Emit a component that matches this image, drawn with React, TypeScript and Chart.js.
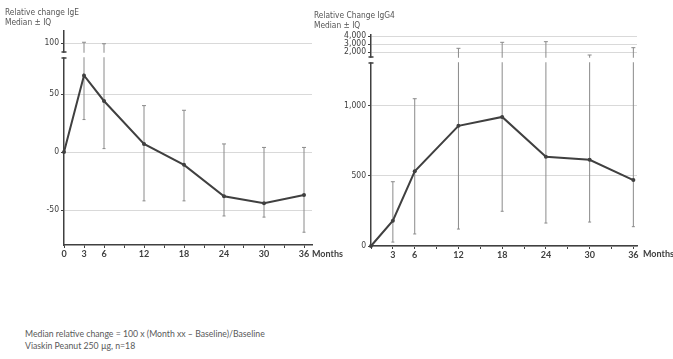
import React, { useEffect, useRef } from 'react';
import { Chart, registerables, LinearScale } from 'chart.js';

Chart.register(...registerables);

// ---- data ----
const months = [0, 3, 6, 12, 18, 24, 30, 36];
const barMonths = [3, 6, 12, 18, 24, 30, 36];

const igeMedian = [0, 66, 44, 7, -11, -38, -44, -37];
const igeLow = [28, 3, -42, -42, -55, -56, -69];
const igeHigh = [101, 99, 40, 36, 7, 4, 4];

const igg4Median = [0, 181, 533, 858, 922, 638, 616, 471];
const igg4Low = [28, 86, 121, 248, 164, 171, 138];
const igg4High = [459, 1052, 2460, 3210, 3290, 1625, 2540];

const igeYTicks = [-50, 0, 50, 100];
const igg4YTicks = [0, 500, 1000, 2000, 3000, 4000];
const xTickMonths = [0, 3, 6, 9, 12, 15, 18, 21, 24, 27, 30, 33, 36];
const igeXLabels = [0, 3, 6, 12, 18, 24, 30, 36];
const igg4XLabels = [3, 6, 12, 18, 24, 30, 36];

// broken-axis definitions: [value, pixels from bottom of plot]
const igeBreak: number[][] = [[-80, 0], [81, 187], [88, 193], [116, 214]];
const igg4Break: number[][] = [[0, 0], [1307, 183], [1375, 189], [4125, 211]];

function valueToPx(segs: number[][], v: number) {
  for (let i = 0; i < segs.length - 1; i++) {
    const [v0, p0] = segs[i];
    const [v1, p1] = segs[i + 1];
    if (v <= v1 || i === segs.length - 2) {
      return p0 + ((v - v0) * (p1 - p0)) / (v1 - v0);
    }
  }
  return 0;
}
function pxToValue(segs: number[][], p: number) {
  for (let i = 0; i < segs.length - 1; i++) {
    const [v0, p0] = segs[i];
    const [v1, p1] = segs[i + 1];
    if (p <= p1 || i === segs.length - 2) {
      return v0 + ((p - p0) * (v1 - v0)) / (p1 - p0);
    }
  }
  return 0;
}

function makeBrokenScale(id: string, segs: number[][]) {
  const total = segs[segs.length - 1][1];
  class BrokenScale extends LinearScale {
    static id = id;
    static defaults = {};
    getPixelForValue(value: any) {
      if (value === null || value === undefined || isNaN(value)) return NaN;
      const px = valueToPx(segs, value);
      return this.bottom - (px * (this.bottom - this.top)) / total;
    }
    getValueForPixel(pixel: number) {
      const px = ((this.bottom - pixel) * total) / (this.bottom - this.top);
      return pxToValue(segs, px);
    }
  }
  return BrokenScale;
}

Chart.register(makeBrokenScale('brokenIgE', igeBreak) as any, makeBrokenScale('brokenIgG4', igg4Break) as any);

const NARROW = "'Liberation Sans Narrow', 'DejaVu Sans Condensed', sans-serif";
const BODY = "Lato, 'Open Sans', sans-serif";
const DARK = '#404040';
const BAR = '#8a8a8a';

type PanelProps = {
  scaleId: string;
  segs: number[][];
  yTicks: number[];
  xLabels: number[];
  xMax: number;
  median: number[];
  low: number[];
  high: number[];
  left: number;
  width: number;
  height: number;
  yWidth: number;
  padTop: number;
  padRight: number;
};

function Panel(p: PanelProps) {
  const ref = useRef<HTMLCanvasElement>(null);
  useEffect(() => {
    if (!ref.current) return;
    const errData: any[] = [];
    barMonths.forEach((m, i) => {
      errData.push({ x: m, y: p.low[i] }, { x: m, y: p.high[i] }, { x: m, y: null });
    });
    const capTop = barMonths.map((m, i) => ({ x: m, y: p.high[i] }));
    const capBot = barMonths.map((m, i) => ({ x: m, y: p.low[i] }));
    const segs = p.segs;
    const gapPlugin = {
      id: 'gap',
      afterDraw(chart: any) {
        const ctx = chart.ctx;
        const y = chart.scales.y;
        const area = chart.chartArea;
        const pTop = y.getPixelForValue(segs[2][0]);
        const pBot = y.getPixelForValue(segs[1][0]);
        ctx.save();
        ctx.fillStyle = '#ffffff';
        ctx.fillRect(area.left - 5, pTop + 0.75, area.right - area.left + 8, pBot - pTop - 1.5);
        ctx.strokeStyle = DARK;
        ctx.lineWidth = 1.5;
        ctx.beginPath();
        ctx.moveTo(area.left - 2.5, pTop);
        ctx.lineTo(area.left + 2.5, pTop);
        ctx.moveTo(area.left - 2.5, pBot);
        ctx.lineTo(area.left + 2.5, pBot);
        ctx.stroke();
        ctx.restore();
      },
    };
    const chart = new Chart(ref.current, {
      type: 'line',
      data: {
        datasets: [
          {
            data: months.map((m, i) => ({ x: m, y: p.median[i] })),
            borderColor: DARK,
            borderWidth: 2,
            pointRadius: 2,
            pointBackgroundColor: DARK,
            pointBorderWidth: 0,
            tension: 0,
            clip: false,
          } as any,
          {
            data: errData,
            borderColor: BAR,
            borderWidth: 1,
            pointRadius: 0,
            spanGaps: false,
          },
          {
            data: capTop,
            showLine: false,
            pointStyle: 'line',
            pointRadius: 2,
            borderColor: BAR,
            pointBorderColor: BAR,
            pointBorderWidth: 1,
          },
          {
            data: capBot,
            showLine: false,
            pointStyle: 'line',
            pointRadius: 1.5,
            borderColor: BAR,
            pointBorderColor: BAR,
            pointBorderWidth: 1,
          },
        ],
      },
      options: {
        animation: false,
        responsive: false,
        maintainAspectRatio: false,
        events: [],
        layout: { padding: { top: p.padTop, right: p.padRight, left: 0, bottom: 0 } },
        plugins: { legend: { display: false }, tooltip: { enabled: false } },
        scales: {
          x: {
            type: 'linear',
            min: 0,
            max: p.xMax,
            afterBuildTicks: (s: any) => {
              s.ticks = xTickMonths.map((v) => ({ value: v }));
            },
            afterFit: (s: any) => {
              s.height = 25;
            },
            ticks: {
              autoSkip: false,
              maxRotation: 0,
              padding: 1,
              color: DARK,
              font: { family: BODY, size: 9, weight: 'bold' },
              callback: (v: any) => (p.xLabels.includes(Number(v)) ? String(v) : ''),
            },
            grid: { drawOnChartArea: false, color: DARK, tickColor: DARK, tickLength: 3 },
            border: { color: DARK, width: 1.5 },
          },
          y: {
            type: p.scaleId as any,
            min: p.segs[0][0],
            max: p.segs[p.segs.length - 1][0],
            afterBuildTicks: (s: any) => {
              s.ticks = p.yTicks.map((v) => ({ value: v }));
            },
            afterFit: (s: any) => {
              s.width = p.yWidth;
            },
            ticks: {
              autoSkip: false,
              padding: 2,
              color: DARK,
              font: { family: NARROW, size: 8.5 },
              callback: (v: any) => Number(v).toLocaleString('en-US'),
            },
            grid: { color: '#d9d9d9', tickColor: DARK, tickLength: 3, lineWidth: 1 },
            border: { color: DARK, width: 1.5 },
          } as any,
        },
      },
      plugins: [gapPlugin],
    } as any);
    return () => chart.destroy();
  }, []);
  return (
    <canvas
      ref={ref}
      width={p.width}
      height={p.height}
      style={{ position: 'absolute', left: p.left, top: 0, width: p.width, height: p.height }}
    />
  );
}

const txt = (extra: React.CSSProperties): React.CSSProperties => ({
  position: 'absolute',
  whiteSpace: 'nowrap',
  margin: 0,
  ...extra,
});

export default function App() {
  return (
    <div style={{ position: 'fixed', left: 0, top: 0, width: 673, height: 359, background: '#fff', overflow: 'hidden' }}>
      <Panel
        scaleId="brokenIgE"
        segs={igeBreak}
        yTicks={igeYTicks}
        xLabels={igeXLabels}
        xMax={37.2}
        median={igeMedian}
        low={igeLow}
        high={igeHigh}
        left={0}
        width={340}
        height={270}
        yWidth={64}
        padTop={31}
        padRight={28}
      />
      <Panel
        scaleId="brokenIgG4"
        segs={igg4Break}
        yTicks={igg4YTicks}
        xLabels={igg4XLabels}
        xMax={36.5}
        median={igg4Median}
        low={igg4Low}
        high={igg4High}
        left={300}
        width={373}
        height={271}
        yWidth={71}
        padTop={35}
        padRight={36}
      />
      <div style={txt({ left: 5, top: 7, font: `8.3px ${NARROW}`, lineHeight: '10px', color: '#555' })}>Relative change IgE</div>
      <div style={txt({ left: 5, top: 17, font: `8.3px ${NARROW}`, lineHeight: '10px', color: '#555' })}>Median ± IQ</div>
      <div style={txt({ left: 314, top: 10, font: `8.3px ${NARROW}`, lineHeight: '10px', color: '#555' })}>Relative Change IgG4</div>
      <div style={txt({ left: 314, top: 20, font: `8.3px ${NARROW}`, lineHeight: '10px', color: '#555' })}>Median ± IQ</div>
      <div style={txt({ left: 312, top: 249, font: `bold 9px ${BODY}`, lineHeight: '10px', color: DARK })}>Months</div>
      <div style={txt({ left: 643, top: 249, font: `bold 9px ${BODY}`, lineHeight: '10px', color: DARK })}>Months</div>
      <div style={txt({ left: 25, top: 328, font: `8.7px ${BODY}`, lineHeight: '11px', color: '#595959' })}>
        Median relative change = 100 x (Month xx – Baseline)/Baseline
      </div>
      <div style={txt({ left: 25, top: 340, font: `8.7px ${BODY}`, lineHeight: '11px', color: '#595959' })}>
        Viaskin Peanut 250 µg, n=18
      </div>
    </div>
  );
}
